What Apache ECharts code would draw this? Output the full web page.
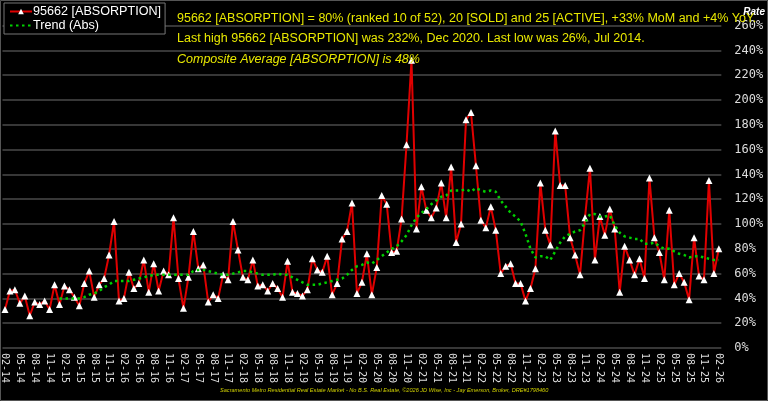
<!DOCTYPE html>
<html>
<head>
<meta charset="utf-8">
<title>95662 Absorption</title>
<script src="https://cdn.jsdelivr.net/npm/echarts@6/dist/echarts.min.js"></script>
<style>
  html, body { margin: 0; padding: 0; background: #000; }
  #chart { width: 768px; height: 401px; }
</style>
</head>
<body>
<div id="chart"></div>
<script>
// months Feb 2014 .. Feb 2026, label "MM-YY"
const startYear = 2014
const startMonth = 2
const monthCount = 145
const months = []
for (let i = 0; i < monthCount; i++) {
  const m = (startMonth - 1 + i) % 12 + 1
  const y = startYear + Math.floor((startMonth - 1 + i) / 12)
  months.push(String(m).padStart(2, '0') + '-' + String(y % 100).padStart(2, '0'))
}

// absorption rate, %
const absorption = [
  31, 46, 47, 36, 42, 26, 37, 35, 38, 31, 51, 35,
  50, 47, 41, 34, 52, 62, 41, 51, 56, 75, 102, 38,
  40, 61, 48, 52, 71, 45, 68, 46, 62, 59, 105, 56,
  32, 57, 94, 64, 67, 37, 43, 40, 59, 55, 102, 79,
  57, 55, 71, 50, 51, 46, 52, 48, 41, 70, 45, 44,
  42, 47, 72, 63, 61, 74, 43, 52, 88, 94, 117, 44,
  53, 76, 43, 65, 123, 116, 77, 78, 104, 164, 232, 96,
  130, 111, 105, 113, 133, 105, 146, 85, 100, 184, 190, 147,
  103, 97, 114, 95, 60, 66, 68, 52, 52, 38, 48, 64,
  133, 95, 83, 175, 131, 131, 89, 75, 59, 105, 145, 71,
  106, 91, 112, 96, 45, 82, 71, 59, 72, 56, 137, 89,
  77, 55, 111, 51, 60, 53, 39, 89, 58, 55, 135, 60,
  80
]

// trend (abs), starts Jan 2015
const trendStart = 11
const trendValues = [
  40, 40, 40, 40, 40, 41, 43, 44, 46, 49, 51, 54,
  54, 54, 54, 55, 56, 57, 58, 59, 59, 59, 59, 59,
  59, 59, 59, 62, 63, 63, 62, 61, 60, 59, 59, 60,
  61, 62, 62, 61, 60, 59, 59, 59, 60, 59, 59, 57,
  55, 53, 51, 51, 51, 52, 53, 54, 55, 56, 59, 63,
  66, 67, 69, 68, 71, 74, 77, 80, 82, 86, 91, 99,
  105, 109, 112, 116, 119, 122, 123, 127, 127, 127, 128, 126,
  129, 127, 126, 127, 126, 119, 114, 109, 106, 102, 92, 80,
  73, 74, 74, 71, 78, 85, 90, 92, 94, 95, 101, 108,
  108, 106, 106, 107, 99, 93, 90, 89, 88, 88, 84, 84,
  85, 82, 80, 80, 78, 76, 75, 73, 74, 74, 73, 72,
  71, 71
]
const trend = months.map((m, i) => (i < trendStart ? null : trendValues[i - trendStart]))

const yTicks = { min: 0, max: 260, interval: 20 }

const titleLines = [
  '95662 [ABSORPTION] = 80% (ranked 10 of 52), 20 [SOLD] and 25 [ACTIVE], +33% MoM and +4% YoY.',
  'Last high 95662 [ABSORPTION] was 232%, Dec 2020. Last low was 26%, Jul 2014.',
  'Composite Average [ABSORPTION] is 48%'
]
const footer = 'Sacramento Metro Residential Real Estate Market - No B.S. Real Estate, \u00a92026 JD Wise, Inc - Jay Emerson, Broker, DRE#1798460'

const yellow = '#e8e800'
const font = 'Liberation Sans, Arial, sans-serif'
const chart = echarts.init(document.getElementById('chart'))

const option = {
  backgroundColor: '#000',
  animation: false,
  title: titleLines.map((t, i) => ({
    text: t,
    left: 172,
    top: 7 + i * 20.5,
    textStyle: {
      color: yellow,
      fontSize: 12.5,
      fontWeight: 'normal',
      fontStyle: i === 2 ? 'italic' : 'normal',
      fontFamily: font
    }
  })),
  legend: {
    left: 4,
    top: 3,
    orient: 'vertical',
    backgroundColor: '#000',
    borderColor: '#777',
    borderWidth: 1,
    padding: [2, 4, 2, 5],
    itemGap: 1,
    itemWidth: 22,
    itemHeight: 7,
    textStyle: {
      color: '#fff',
      fontSize: 12.6,
      fontFamily: font,
      padding: [0, 0, 0, -4]
    },
    data: [
      { name: '95662 [ABSORPTION]' },
      { name: 'Trend (Abs)', itemStyle: { opacity: 0 } }
    ]
  },
  grid: {
    left: 0,
    right: 42,
    top: 25.6,
    bottom: 53
  },
  xAxis: {
    type: 'category',
    data: months,
    boundaryGap: true,
    axisLine: { show: false },
    axisTick: { show: false },
    axisLabel: {
      interval: 2,
      rotate: -90,
      margin: 5,
      color: '#ddd',
      fontSize: 10,
      fontFamily: 'DejaVu Sans Mono, monospace'
    },
    splitLine: { show: false }
  },
  yAxis: {
    type: 'value',
    position: 'right',
    min: yTicks.min,
    max: yTicks.max,
    interval: yTicks.interval,
    name: 'Rate',
    nameLocation: 'end',
    nameGap: 8,
    nameTextStyle: {
      color: '#fff',
      fontSize: 10,
      fontStyle: 'italic',
      fontWeight: 'bold',
      fontFamily: font,
      align: 'left',
      padding: [0, 0, 0, 22]
    },
    axisLine: { show: false },
    axisTick: { show: false },
    axisLabel: {
      margin: 13,
      color: '#ddd',
      fontSize: 12,
      fontFamily: 'DejaVu Sans Mono, monospace',
      formatter: '{value}%'
    },
    splitLine: { lineStyle: { color: '#4a4a4a', width: 1.5 } }
  },
  graphic: [
    {
      type: 'rect',
      shape: { x: 0.5, y: 0.5, width: 767, height: 400 },
      style: { fill: 'none', stroke: '#555', lineWidth: 1 },
      silent: true
    },
    {
      type: 'text',
      left: 220,
      top: 387,
      style: {
        text: footer,
        fill: '#d0d000',
        fontSize: 5.6,
        fontStyle: 'italic',
        fontFamily: font
      }
    }
  ],
  series: [
    {
      name: '95662 [ABSORPTION]',
      type: 'line',
      data: absorption,
      symbol: 'triangle',
      symbolSize: 7,
      showAllSymbol: true,
      itemStyle: { color: '#fff' },
      lineStyle: { color: '#e00000', width: 2 },
      z: 3
    },
    {
      name: 'Trend (Abs)',
      type: 'line',
      data: trend,
      symbol: 'none',
      itemStyle: { color: '#00d000' },
      lineStyle: { color: '#00d000', width: 2.5, type: [2.5, 3.5] },
      z: 4
    }
  ]
}

chart.setOption(option)
</script>
</body>
</html>
